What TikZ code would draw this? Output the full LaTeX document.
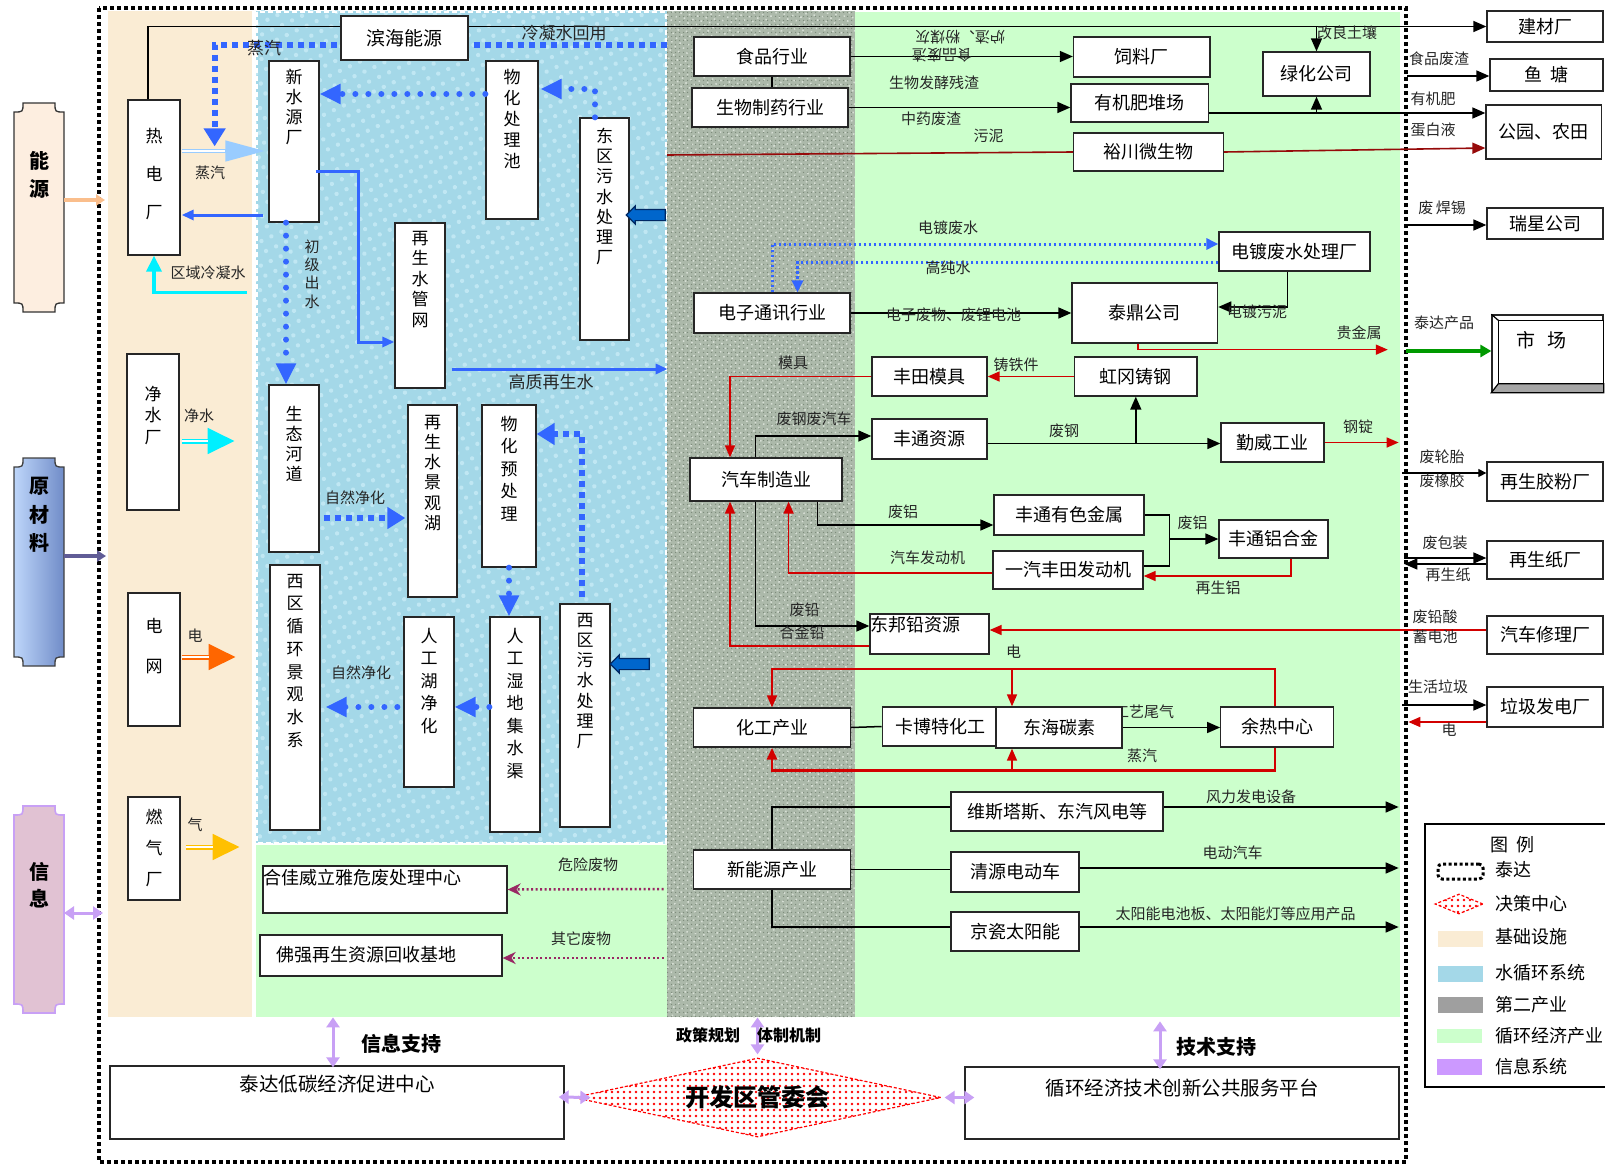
\documentclass[tikz,border=0pt]{standalone}
\usepackage{fontspec}
\setmainfont{Noto Sans CJK SC}
\usetikzlibrary{arrows.meta}
\usetikzlibrary{calc}
\usetikzlibrary{positioning}
\usetikzlibrary{shapes.geometric}
\usetikzlibrary{shapes.arrows}
\usetikzlibrary{patterns.meta}

\definecolor{infra}{RGB}{250,236,212}
\definecolor{water}{RGB}{164,216,232}
\definecolor{waterlt}{RGB}{192,231,243}
\definecolor{second}{RGB}{172,185,170}
\definecolor{seconddk}{RGB}{126,140,124}
\definecolor{secondlt}{RGB}{214,222,212}
\definecolor{circ}{RGB}{204,255,204}
\definecolor{flowblue}{RGB}{51,102,255}
\definecolor{steamblue}{RGB}{153,204,255}
\definecolor{cleancyan}{RGB}{0,240,255}
\definecolor{elecorange}{RGB}{255,102,0}
\definecolor{gasgold}{RGB}{255,192,0}
\definecolor{redc}{RGB}{210,0,0}
\definecolor{darkred}{RGB}{150,10,10}
\definecolor{mktgreen}{RGB}{0,153,0}
\definecolor{waste}{RGB}{153,40,100}
\definecolor{infoviolet}{RGB}{200,160,245}
\definecolor{infopink}{RGB}{225,194,211}
\definecolor{energypeach}{RGB}{253,238,224}
\definecolor{rawlight}{RGB}{190,214,250}
\definecolor{rawdark}{RGB}{112,140,200}
\definecolor{inletblue}{RGB}{0,102,204}
\definecolor{inletdk}{RGB}{0,40,100}
\definecolor{rawarrow}{RGB}{96,92,150}
\definecolor{peach}{RGB}{250,190,140}
\definecolor{swatchviolet}{RGB}{204,153,255}

\tikzset{
    box/.style={rectangle, draw=black!85, fill=white, line width=1.3pt, inner sep=0pt, font=\fontsize{18}{20}\selectfont},
    vtxt/.style={align=center, inner sep=0pt, font=\fontsize{17}{#1}\selectfont},
    vtxt/.default=20.2,
    lbl/.style={inner sep=0pt, text=black!85, font=\fontsize{15}{17}\selectfont},
    lblb/.style={lbl, font=\fontsize{17}{19}\selectfont},
    vlbl/.style={align=center, inner sep=0pt, text=black!85, font=\fontsize{15}{18.3}\selectfont},
    side/.style={align=center, inner sep=0pt, anchor=north, font=\bfseries\fontsize{20}{28}\selectfont},
    bold/.style={inner sep=0pt, font=\bfseries\fontsize{20}{22}\selectfont},
    lgd/.style={inner sep=0pt, anchor=west, font=\fontsize{18}{20}\selectfont},
    swatch/.style={minimum width=45pt, minimum height=16pt, inner sep=0pt},
    ln/.style={line width=1.5pt, black},
    blk/.style={ln, -{Triangle[length=13pt,width=11pt]}},
    redarr/.style={line width=1.6pt, redc, -{Triangle[length=12pt,width=10pt]}},
    bluearr/.style={line width=3pt, flowblue, -{Triangle[length=12pt,width=10pt]}},
    sqdot/.style={line width=6pt, flowblue, dash pattern=on 6pt off 5pt, -{Triangle[length=18pt,width=21pt]}},
    rddot/.style={line width=6pt, flowblue, line cap=round, dash pattern=on 0pt off 13pt, -{Triangle[length=21pt,width=19pt]}},
    edot/.style={line width=3pt, flowblue, dash pattern=on 2.5pt off 2.5pt, -{Triangle[length=12pt,width=11pt]}},
    wdot/.style={line width=2.5pt, waste, dash pattern=on 2pt off 2.5pt, -{Stealth[length=13pt,width=12pt]}},
    fat/.style={line width=5pt, #1, -{Triangle[length=27pt,width=25pt]}, postaction={draw=white, line width=1.4pt, shorten >=27pt, -}},
    fatsteam/.style={line width=4.5pt, steamblue, -{Triangle[length=40pt,width=20pt]}, postaction={draw=white, line width=1.2pt, shorten >=40pt, -}},
    vio/.style={line width=3pt, infoviolet, {Triangle[length=10pt,width=13pt]}-{Triangle[length=10pt,width=13pt]}},
    decide/.style={diamond, draw=red, dash pattern=on 3pt off 2pt, line width=1.2pt, pattern={Dots[distance=6pt,radius=1.3pt]}, pattern color=red, inner sep=0pt},
    inlet/.style={single arrow, draw=inletdk, fill=inletblue, line width=1.2pt, minimum height=39pt, minimum width=17pt, inner xsep=0pt, inner ysep=5pt, single arrow head extend=3.5pt, shape border rotate=180},
}

\begin{document}
\begin{tikzpicture}[x=1pt,y=-1pt]
        \useasboundingbox (0,0) rectangle (1605,1164);

        % zones
        \fill[infra] (108,11) rectangle (252,1017);
        \fill[water] (256,11) rectangle (667,843);
        \fill[pattern={Dots[distance=11pt,radius=2.2pt,angle=25]}, pattern color=waterlt] (256,11) rectangle (667,843);
        \fill[circ] (256,845) rectangle (667,1017);
        \fill[second] (667,11) rectangle (855,1017);
        \fill[pattern={Dots[distance=4pt,radius=0.9pt]}, pattern color=seconddk] (667,11) rectangle (855,1017);
        \fill[pattern={Dots[distance=6pt,radius=1.1pt,angle=35]}, pattern color=secondlt] (667,11) rectangle (855,1017);
        \fill[circ] (855,12) rectangle (1400,1017);
        \draw[white, line width=2.5pt, dash pattern=on 5pt off 3pt] (257,12) rectangle (666,843);
        \draw[line width=3.5pt, dash pattern=on 4pt off 3pt] (99,8) rectangle (1406,1162);

        % side plaques
        \filldraw[fill=energypeach, draw=black!80, line width=1.3pt] (23,103) -- (55,103) .. controls (55,112) .. (64,112) -- (64,303) .. controls (55,303) .. (55,312) -- (23,312) .. controls (23,303) .. (14,303) -- (14,112) .. controls (23,112) .. (23,103) -- cycle;
        \path[draw=black!75, line width=1.3pt, left color=rawlight, right color=rawdark] (23,458) -- (55,458) .. controls (55,467) .. (64,467) -- (64,657) .. controls (55,657) .. (55,666) -- (23,666) .. controls (23,657) .. (14,657) -- (14,467) .. controls (23,467) .. (23,458) -- cycle;
        \filldraw[fill=infopink, draw=infoviolet, line width=1.6pt] (23,806) -- (55,806) .. controls (55,815) .. (64,815) -- (64,1004) .. controls (55,1004) .. (55,1013) -- (23,1013) .. controls (23,1004) .. (14,1004) -- (14,815) .. controls (23,815) .. (23,806) -- cycle;
        \node[side] (nengyuan) at (39,151) {能\\源};
        \node[side, font=\bfseries\fontsize{20}{28.5}\selectfont] (yuancailiao) at (39,477) {原\\材\\料};
        \node[side, font=\bfseries\fontsize{20}{27}\selectfont] (xinxi) at (39,862) {信\\息};
        \coordinate (energyout) at (64,200);
        \coordinate (rawout) at (64,556);
        \coordinate (infoout) at (64,913);
        \draw[line width=3.5pt, peach, -{Triangle[length=9pt,width=11pt]}] (energyout) -- ++(41,0);
        \draw[line width=3.5pt, rawarrow, -{Triangle[length=9pt,width=11pt]}] (rawout) -- ++(42,0);
        \draw[vio] (infoout) -- ++(39,0);

        % infrastructure
        \node[box, minimum width=52pt, minimum height=155pt] (rdc) at (154,177.5) {};
        \node[vtxt=38, below=28.5pt of rdc.north] (rdct) {热\\电\\厂};
        \node[box, minimum width=52pt, minimum height=156pt] (jsc) at (153,432) {};
        \node[vtxt=21.5, below=32.5pt of jsc.north] (jsct) {净\\水\\厂};
        \node[box, minimum width=52pt, minimum height=133pt] (dw) at (154,659.5) {};
        \node[vtxt=40, below=25.5pt of dw.north] (dwt) {电\\网};
        \node[box, minimum width=52pt, minimum height=103pt] (rqc) at (154,848.5) {};
        \node[vtxt=31, below=12.5pt of rqc.north] (rqct) {燃\\气\\厂};

        % water cycle
        \node[box, minimum width=50pt, minimum height=161pt] (xsy) at (294,141.5) {};
        \node[vtxt, below=8.5pt of xsy.north] (xsyt) {新\\水\\源\\厂};
        \node[box, minimum width=52pt, minimum height=158pt] (whc) at (512,140) {};
        \node[vtxt=21, below=8.5pt of whc.north] (whct) {物\\化\\处\\理\\池};
        \node[box, minimum width=49pt, minimum height=222pt] (dqws) at (604.5,229) {};
        \node[vtxt, below=10.5pt of dqws.north] (dqwst) {东\\区\\污\\水\\处\\理\\厂};
        \node[box, minimum width=50pt, minimum height=165pt] (zsgw) at (420,305.5) {};
        \node[vtxt=20.5, below=8.5pt of zsgw.north] (zsgwt) {再\\生\\水\\管\\网};
        \node[box, minimum width=50pt, minimum height=167pt] (sthd) at (294,468.5) {};
        \node[vtxt, below=21.5pt of sthd.north] (sthdt) {生\\态\\河\\道};
        \node[box, minimum width=49pt, minimum height=192pt] (jgh) at (432.5,501) {};
        \node[vtxt, below=10.5pt of jgh.north] (jght) {再\\生\\水\\景\\观\\湖};
        \node[box, minimum width=54pt, minimum height=162pt] (whyc) at (509,486) {};
        \node[vtxt=22.5, below=11.5pt of whyc.north] (whyct) {物\\化\\预\\处\\理};
        \node[box, minimum width=50pt, minimum height=265pt] (xqxh) at (295,697.5) {};
        \node[vtxt=22.7, below=9.5pt of xqxh.north] (xqxht) {西\\区\\循\\环\\景\\观\\水\\系};
        \node[box, minimum width=50pt, minimum height=170pt] (rgh) at (429,702) {};
        \node[vtxt=22.5, below=11.5pt of rgh.north] (rght) {人\\工\\湖\\净\\化};
        \node[box, minimum width=50pt, minimum height=215pt] (rgsd) at (515,724.5) {};
        \node[vtxt=22.5, below=11.5pt of rgsd.north] (rgsdt) {人\\工\\湿\\地\\集\\水\\渠};
        \node[box, minimum width=50pt, minimum height=223pt] (xqws) at (585,715.5) {};
        \node[vtxt, below=9.5pt of xqws.north] (xqwst) {西\\区\\污\\水\\处\\理\\厂};

        \node[box, minimum width=244pt, minimum height=47pt] (hjwly) at (385,889.5) {};
        \node[anchor=west, inner sep=0pt, font=\fontsize{18}{20}\selectfont] (hjwlyt) at ($(hjwly.north west)+(1,12)$) {合佳威立雅危废处理中心};
        \node[box, minimum width=242pt, minimum height=41pt] (fqzs) at (381,955.5) {};
        \node[inner sep=0pt, font=\fontsize{18}{20}\selectfont] (fqzst) at ($(fqzs.center)+(-15,-1)$) {佛强再生资源回收基地};

        % management
        \node[box, minimum width=454pt, minimum height=73pt] (tdcx) at (337,1102.5) {};
        \node[below=9pt of tdcx.north, inner sep=0pt, font=\fontsize{19.5}{21}\selectfont] (tdcxt) {泰达低碳经济促进中心};
        \node[decide, minimum width=367pt, minimum height=79pt] (kfq) at (757.5,1097.5) {};
        \node[inner sep=0pt, font=\bfseries\fontsize{24}{26}\selectfont] (kfqt) at (kfq.center) {开发区管委会};
        \node[box, minimum width=434pt, minimum height=72pt] (xhjj) at (1182,1103) {};
        \node[below=12pt of xhjj.north, inner sep=0pt, font=\fontsize{19.5}{21}\selectfont] (xhjjt) {循环经济技术创新公共服务平台};

        % industry and recycling
        \node[box, minimum width=156pt, minimum height=39pt] (spy) at (772,56.5) {食品行业};
        \node[box, minimum width=156pt, minimum height=39pt] (swzy) at (770,107.5) {生物制药行业};
        \node[box, minimum width=136.5pt, minimum height=40pt] (slc) at (1141.75,57) {饲料厂};
        \node[box, minimum width=137.5pt, minimum height=38pt] (yjf) at (1139.75,103) {有机肥堆场};
        \node[box, minimum width=107pt, minimum height=44pt] (lhgs) at (1316.5,74) {绿化公司};
        \node[box, minimum width=150pt, minimum height=38pt] (ycwsw) at (1148.5,152) {裕川微生物};
        \node[box, minimum width=116pt, minimum height=31pt] (jcc) at (1545,26.5) {建材厂};
        \node[box, minimum width=113pt, minimum height=32pt] (yt) at (1546.5,75) {鱼\hspace{8pt}塘};
        \node[box, minimum width=115.5pt, minimum height=54pt] (gy) at (1543.75,132) {公园、农田};
        \node[box, minimum width=116pt, minimum height=31pt] (rx) at (1545,223.5) {瑞星公司};
        \node[box, minimum width=151pt, minimum height=39pt] (ddfs) at (1294.5,251.5) {电镀废水处理厂};
        \node[box, minimum width=156pt, minimum height=40pt] (dztx) at (772,313) {电子通讯行业};
        \node[box, minimum width=145.6pt, minimum height=60pt] (tdgs) at (1144.8,313) {泰鼎公司};
        \node[box, minimum width=111pt, minimum height=77pt] (sc) at (1547.5,353.5) {};
        \draw[line width=1.2pt, fill=white] ($(sc.north west)+(7,6)$) rectangle ($(sc.south east)+(0,-9)$);
        \filldraw[fill=gray!70, line width=1.2pt] (sc.south west) -- ($(sc.south west)+(7,-9)$) -- ($(sc.south east)+(0,-9)$) -- (sc.south east) -- cycle;
        \draw[line width=1.2pt] (sc.north west) -- ($(sc.north west)+(7,6)$);
        \node[inner sep=0pt, font=\fontsize{19}{21}\selectfont] (sct) at (1541,340) {市\hspace{12pt}场};
        \node[box, minimum width=115pt, minimum height=39pt] (ftmj) at (929.5,376.5) {丰田模具};
        \node[box, minimum width=122.4pt, minimum height=39pt] (hggg) at (1135.8,376.5) {虹冈铸钢};
        \node[box, minimum width=115pt, minimum height=40pt] (ftzy) at (929.5,439) {丰通资源};
        \node[box, minimum width=103pt, minimum height=39pt] (qwgy) at (1272.5,442.5) {勤威工业};
        \node[box, minimum width=152pt, minimum height=43pt] (qczz) at (766,479.5) {汽车制造业};
        \node[box, minimum width=150pt, minimum height=40pt] (ftys) at (1069,515) {丰通有色金属};
        \node[box, minimum width=109pt, minimum height=38pt] (ftlhj) at (1273.5,539) {丰通铝合金};
        \node[box, minimum width=150pt, minimum height=38pt] (yqft) at (1068,570) {一汽丰田发动机};
        \node[box, minimum width=119pt, minimum height=40pt] (dbqzy) at (929.5,634) {};
        \node[anchor=west, inner sep=0pt, font=\fontsize{18}{20}\selectfont] (dbqzyt) at ($(dbqzy.north west)+(1,11)$) {东邦铅资源};
        \node[lbl] (ltail) at (1144,712) {工艺尾气};
        \node[box, minimum width=156.5pt, minimum height=39pt] (hgcy) at (772,727.5) {化工产业};
        \node[box, minimum width=115.5pt, minimum height=39pt] (kbt) at (940,726.5) {卡博特化工};
        \node[box, minimum width=126pt, minimum height=41pt] (dhts) at (1059,727.5) {东海碳素};
        \node[box, minimum width=112.5pt, minimum height=40pt] (yrzx) at (1277,727) {余热中心};
        \node[box, minimum width=212pt, minimum height=39pt] (vestas) at (1057,811.5) {维斯塔斯、东汽风电等};
        \node[box, minimum width=156.5pt, minimum height=39pt] (xnycy) at (772,869.5) {新能源产业};
        \node[box, minimum width=128pt, minimum height=40pt] (qydd) at (1015,872) {清源电动车};
        \node[box, minimum width=128pt, minimum height=39pt] (jcty) at (1015,931.5) {京瓷太阳能};
        \node[box, minimum width=116pt, minimum height=39pt] (zsjf) at (1545,481.5) {再生胶粉厂};
        \node[box, minimum width=116pt, minimum height=38pt] (zszc) at (1545,560) {再生纸厂};
        \node[box, minimum width=116pt, minimum height=38pt] (qcxl) at (1545,635) {汽车修理厂};
        \node[box, minimum width=116pt, minimum height=40pt] (ljfd) at (1545,707) {垃圾发电厂};

        % lines under the Binhai box
        \draw[blk] ($(rdc.north)+(-6,0)$) |- (jcc.west);
        \coordinate (condret) at (667,45);
        \draw[sqdot] (condret) -| ($(rdc.north east)+(34,47)$);
        \node[box, font=\fontsize{19}{21}\selectfont, minimum width=127pt, minimum height=44pt] (bhny) at (404.5,38) {滨海能源};

        % water flows
        \draw[fatsteam] ($(rdc.east)+(1,-26.5)$) -- ($(xsy.west)+(-3,9.5)$);
        \draw[bluearr] ($(xsy.west)+(-5,73.5)$) -- ($(rdc.east)+(1,37.5)$);
        \draw[line width=3.5pt, cleancyan, -{Triangle[length=16pt,width=15pt]}] ($(rdc.south)+(93,37)$) -| (rdc.south);
        \draw[fat=cleancyan] ($(jsc.east)+(2,9)$) -- ++(53,0);
        \draw[fat=elecorange] ($(dw.east)+(1,-2.5)$) -- ++(54,0);
        \draw[fat=gasgold] ($(rqc.east)+(5,-1.5)$) -- ++(54,0);
        \draw[rddot] ($(whc.west)+(0,-46)$) -- ($(xsy.east)+(0,-47.5)$);
        \draw[rddot] ($(dqws.north)+(-9.5,0)$) |- ($(whc.east)+(2,-51)$);
        \draw[bluearr] ($(xsy.east)+(-4,29.5)$) -| ($(zsgw.west)+(-36,36.5)$) -- ($(zsgw.west)+(0,36.5)$);
        \draw[rddot] ($(xsy.south)+(-8,0)$) -- ($(sthd.north)+(-8,0)$);
        \draw[bluearr] ($(zsgw.east)+(6,63.5)$) -- ++(216,0);
        \node[inlet] (eastin) at (648.5,215) {};
        \node[inlet] (westin) at (632.5,664) {};
        \draw[sqdot] ($(sthd.east)+(4,49.5)$) -- ($(jgh.west)+(-2,17)$);
        \draw[sqdot] ($(xqws.north)+(-3,-6)$) |- ($(whyc.east)+(0,-52)$);
        \draw[rddot] (whyc.south) -- (whyc.south |- rgsd.north);
        \draw[rddot] ($(rgsd.west)+(0,-17.5)$) -- ($(rgh.east)+(0,5)$);
        \draw[rddot] ($(rgh.west)+(-6,5)$) -- ($(xqxh.east)+(5,9.5)$);
        \draw[wdot] ($(hjwly.east)+(156,-0.5)$) -- (hjwly.east);
        \draw[wdot] ($(fqzs.east)+(161,2.5)$) -- ($(fqzs.east)+(0,2.5)$);

        % support
        \draw[vio] ($(tdcx.north)+(-4,-48)$) -- ($(tdcx.north)+(-4,2)$);
        \draw[vio] ($(tdcx.east)+(-6,-5.5)$) -- ($(kfq.west)+(17,0)$);
        \draw[vio] ($(kfq.north)+(0,-40)$) -- ($(kfq.north)+(0,-3)$);
        \draw[vio] ($(kfq.east)+(3,0)$) -- ($(xhjj.west)+(10,-5.5)$);
        \draw[vio] ($(xhjj.north)+(-22,-45)$) -- ($(xhjj.north)+(-22,3)$);

        % material flows
        \draw[blk] (lhgs.north |- jcc.west) -- (lhgs.north);
        \draw[blk] (spy.east) -- (spy.east -| slc.west);
        \draw[ln] (spy.south) -- (spy.south |- swzy.north);
        \draw[blk] (swzy.east) -- (swzy.east -| yjf.west);
        \coordinate (fertout) at ($(yjf.east)+(0,10)$);
        \draw[blk] (fertout) -- (fertout -| gy.west);
        \draw[blk] (fertout -| lhgs.south) -- (lhgs.south);
        \coordinate (sludgein) at (667,155);
        \draw[line width=1.6pt, darkred] (sludgein) -- (ycwsw.west);
        \draw[line width=1.6pt, darkred, -{Triangle[length=13pt,width=11pt]}] (ycwsw.east) -- ($(gy.west)+(0,16)$);
        \draw[blk] ($(yt.west)+(-82,1)$) -- ($(yt.west)+(0,1)$);
        \draw[blk] ($(rx.west)+(-80,1.5)$) -- ($(rx.west)+(0,1.5)$);
        \draw[edot] (dztx.north) |- ($(ddfs.west)+(0,-7.5)$);
        \draw[edot] ($(ddfs.west)+(0,10.5)$) -| ($(dztx.north)+(25.5,0)$);
        \draw[blk] (dztx.east) -- (tdgs.west);
        \draw[blk] ($(ddfs.south)+(-7,0)$) |- ($(tdgs.east)+(0,-6)$);
        \draw[redarr] ($(tdgs.south)+(-7,0)$) |- ++(250,6);
        \draw[line width=3.5pt, mktgreen, -{Triangle[length=11pt,width=12pt]}] ($(sc.west)+(-85,-2.5)$) -- ($(sc.west)+(0,-2.5)$);
        \draw[redarr] (hggg.west) -- (ftmj.east);
        \draw[redarr] (ftmj.west) -| ($(qczz.north)+(-36,0)$);
        \draw[blk] ($(qczz.north)+(-10.5,0)$) |- ($(ftzy.west)+(0,-3)$);
        \coordinate (steelout) at ($(ftzy.east)+(0,4.5)$);
        \draw[blk] (steelout) -- (steelout -| qwgy.west);
        \draw[blk] (steelout -| hggg.south) -- (hggg.south);
        \draw[redarr] (qwgy.east) -- ++(74,0);
        \draw[blk] ($(qczz.south)+(51.5,0)$) |- ($(ftys.west)+(0,10)$);
        \coordinate (alumjoin) at ($(ftys.east)+(24.7,0)$);
        \draw[ln] (ftys.east) -- (alumjoin) |- ($(yqft.east)+(0,-4)$);
        \draw[blk] (alumjoin |- ftlhj.west) -- (ftlhj.west);
        \draw[redarr] ($(ftlhj.south)+(17.5,0)$) |- ($(yqft.east)+(0,6)$);
        \draw[redarr] ($(yqft.west)+(0,3)$) -| ($(qczz.south)+(22.6,0)$);
        \draw[blk] ($(qczz.south)+(-10.5,0)$) |- ($(dbqzy.west)+(0,-8)$);
        \draw[redarr] ($(dbqzy.west)+(0,12)$) -| ($(qczz.south)+(-36,0)$);
        \draw[redarr] ($(qcxl.west)+(0,-5)$) -- ($(dbqzy.east)+(0,-4)$);
        \draw[redarr, line width=1.8pt] ($(yrzx.north)+(-2,0)$) |- ($(hgcy.north)+(0,-38)$) -- (hgcy.north);
        \draw[redarr] ($(dhts.north)+(-47,-37)$) -- ($(dhts.north)+(-47,0)$);
        \draw[redarr, line width=2.8pt] ($(yrzx.south)+(-2,0)$) |- ($(hgcy.south)+(0,23)$) -- (hgcy.south);
        \draw[redarr] ($(dhts.south)+(-47,22.5)$) -- ($(dhts.south)+(-47,0)$);
        \draw[ln] (hgcy.east) -- (kbt.west);
        \draw[blk] (dhts.east) -- (dhts.east -| yrzx.west);
        \draw[ln] (xnycy.north) |- ($(vestas.west)+(0,-4.5)$);
        \draw[ln] (xnycy.east) -- (xnycy.east -| qydd.west);
        \draw[ln] (xnycy.south) |- ($(jcty.west)+(0,-4.5)$);
        \draw[blk] ($(vestas.east)+(0,-4.5)$) -- ++(235,0);
        \draw[blk] ($(qydd.east)+(0,-4)$) -- ++(319,0);
        \draw[blk] ($(jcty.east)+(0,-4.5)$) -- ++(319,0);
        \draw[line width=1.2pt, -{Triangle[length=8pt,width=8pt]}] ($(zsjf.west)+(-84,-8.5)$) -- ($(zsjf.west)+(0,-8.5)$);
        \draw[blk] ($(zszc.west)+(-82,-2)$) -- ($(zszc.west)+(0,-2)$);
        \draw[blk] ($(zszc.west)+(0,4)$) -- ($(zszc.west)+(-82,4)$);
        \draw[blk] ($(ljfd.west)+(-84,-2)$) -- ($(ljfd.west)+(0,-2)$);
        \draw[redarr] ($(ljfd.west)+(0,15)$) -- ($(ljfd.west)+(-78,15)$);

        % labels
        \node[lblb] (lsteam1) at (264,48) {蒸汽};
        \node[lblb] (lcond) at (564,33) {冷凝水回用};
        \node[lbl] (lsteam2) at (210,173) {蒸汽};
        \node[lbl] (lcool) at (208,273) {区域冷凝水};
        \node[vlbl, anchor=north] (lprim) at (312,239.5) {初\\级\\出\\水};
        \node[lblb] (lhq) at (551,382) {高质再生水};
        \node[lbl] (ljs) at (199,416) {净水};
        \node[lbl] (lelec1) at (195,636) {电};
        \node[lbl] (lgas) at (195,825) {气};
        \node[lbl] (lnat1) at (355,498) {自然净化};
        \node[lbl] (lnat2) at (361,673) {自然净化};
        \node[lbl] (lhaz) at (588,865) {危险废物};
        \node[lbl] (loth) at (581,939) {其它废物};
        \node[lbl, rotate=180] (lslag) at (960,37) {炉渣、粉煤灰};
        \node[lbl, rotate=180] (lfood1) at (942,55) {食品废渣};
        \node[lbl] (lferm) at (934,83) {生物发酵残渣};
        \node[lbl] (ltcm) at (931,119) {中药废渣};
        \node[lbl] (lsludge) at (988.5,136) {污泥};
        \node[lbl] (lsoil) at (1347,33) {改良土壤};
        \node[lbl] (lfood2) at (1439,59) {食品废渣};
        \node[lbl] (lorg) at (1433,99) {有机肥};
        \node[lbl] (lprot) at (1433,130) {蛋白液};
        \node[lbl] (lsolder) at (1442,208) {废\,焊锡};
        \node[lbl] (lplat) at (948,228) {电镀废水};
        \node[lbl] (lpure) at (948,268) {高纯水};
        \node[lbl] (lewaste) at (953.5,315) {电子废物、废锂电池};
        \node[lbl] (lpsl) at (1257,312) {电镀污泥};
        \node[lbl] (lprec) at (1359,333) {贵金属};
        \node[lbl] (lprod) at (1444,323) {泰达产品};
        \node[lbl] (lmould) at (793,363) {模具};
        \node[lbl] (liron) at (1016,365) {铸铁件};
        \node[lbl] (lscrap) at (814,419) {废钢废汽车};
        \node[lbl] (lsteel) at (1064,431) {废钢};
        \node[lbl] (lingot) at (1358,427) {钢锭};
        \node[lbl] (lal1) at (903,512) {废铝};
        \node[lbl] (lal2) at (1192.6,523) {废铝};
        \node[lbl] (lengine) at (927.7,558) {汽车发动机};
        \node[lbl] (lral) at (1218,588) {再生铝};
        \node[lbl] (lpb1) at (804.6,610) {废铅};
        \node[lbl] (lpb2) at (802,633) {合金铅};
        \node[lbl] (lelec2) at (1013.5,652) {电};
        \node[lbl] (lsteam3) at (1142,756) {蒸汽};
        \node[lbl] (lwind) at (1251,797) {风力发电设备};
        \node[lbl] (lev) at (1232.6,853) {电动汽车};
        \node[lbl] (lsolar) at (1235.6,914) {太阳能电池板、太阳能灯等应用产品};
        \node[lbl] (ltire1) at (1442,457) {废轮胎};
        \node[lbl] (ltire2) at (1442,481) {废橡胶};
        \node[lbl] (lpack) at (1445,543) {废包装};
        \node[lbl] (lpaper) at (1448,575) {再生纸};
        \node[lbl] (lbat1) at (1435,617) {废铅酸};
        \node[lbl] (lbat2) at (1435,637) {蓄电池};
        \node[lbl] (lgarb) at (1438,687) {生活垃圾};
        \node[lbl] (lelec3) at (1449,730) {电};
        \node[bold] (linfo) at (401,1044) {信息支持};
        \node[bold, font=\bfseries\fontsize{16}{18}\selectfont] (lpolicy) at (708,1035) {政策规划};
        \node[bold, font=\bfseries\fontsize{16}{18}\selectfont] (lsystem) at (789,1035) {体制机制};
        \node[bold] (ltech) at (1216,1047) {技术支持};

        % legend
        \node[draw, line width=1.3pt, minimum width=181pt, minimum height=263pt, inner sep=0pt] (legend) at (1515.5,955.5) {};
        \node[inner sep=0pt, font=\fontsize{18}{20}\selectfont] (lgtitle) at (1512,845) {图\hspace{8pt}例};
        \node[swatch, draw, line width=3pt, dash pattern=on 3pt off 2.5pt, rounded corners=4pt, minimum height=15pt] (sw1) at (1460.5,871.5) {};
        \node[lgd] (lg1) at (1495,870) {泰达};
        \node[decide, minimum width=48pt, minimum height=20pt] (sw2) at (1459,904) {};
        \node[lgd] (lg2) at (1495,904) {决策中心};
        \node[swatch, fill=infra] (sw3) at (1460.5,938.5) {};
        \node[lgd] (lg3) at (1495,937) {基础设施};
        \node[swatch, fill=water] (sw4) at (1460.5,973.5) {};
        \node[lgd] (lg4) at (1495,973) {水循环系统};
        \node[swatch, fill=gray!75] (sw5) at (1460.5,1005) {};
        \node[lgd] (lg5) at (1495,1005) {第二产业};
        \node[swatch, fill=circ, minimum height=14pt] (sw6) at (1459.5,1036) {};
        \node[lgd] (lg6) at (1495,1036) {循环经济产业};
        \node[swatch, fill=swatchviolet] (sw7) at (1459.5,1067) {};
        \node[lgd] (lg7) at (1495,1067) {信息系统};
    \end{tikzpicture}
\end{document}
